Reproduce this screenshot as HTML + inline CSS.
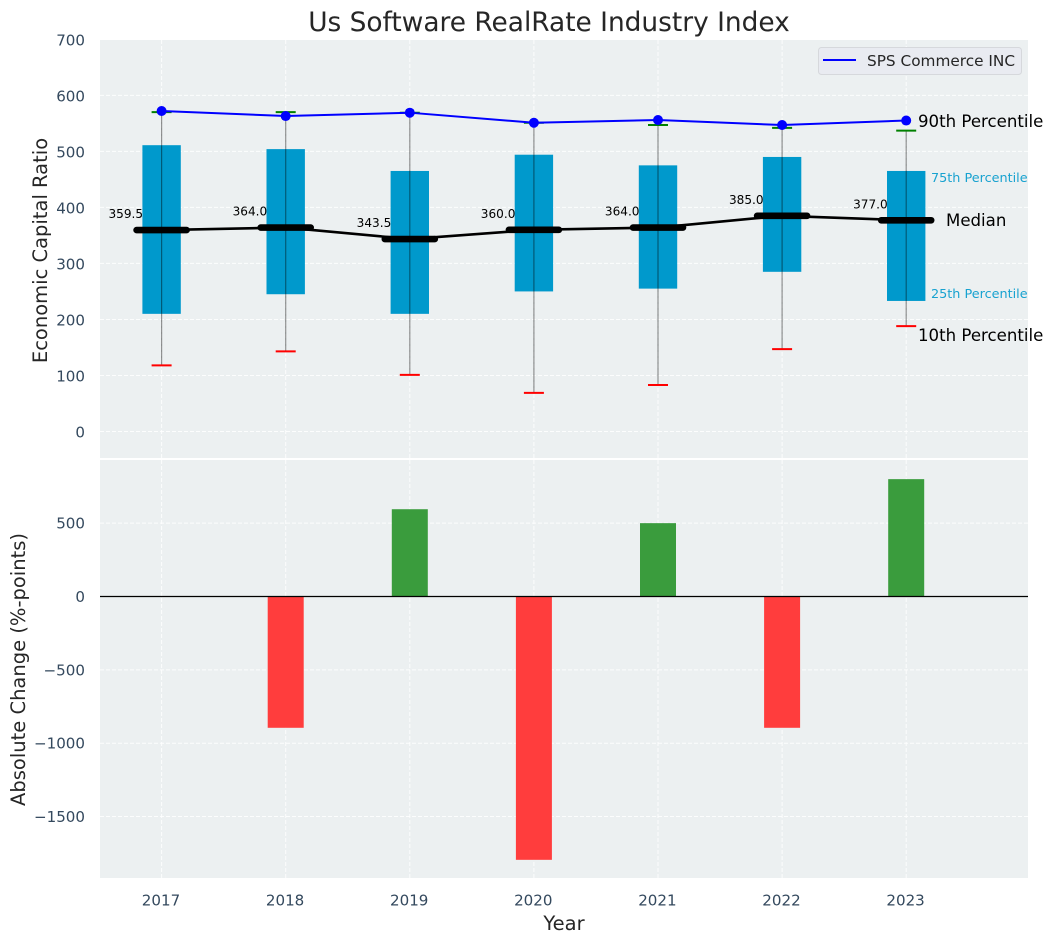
<!DOCTYPE html>
<html>
<head>
<meta charset="utf-8">
<title>Us Software RealRate Industry Index</title>
<style>
html,body{margin:0;padding:0;background:#fff;}
svg{display:block;font-family:"DejaVu Sans","Liberation Sans",sans-serif;}
</style>
</head>
<body>
<svg id="chart" width="1053" height="942" viewBox="0 0 1053 942" xmlns="http://www.w3.org/2000/svg">
  <rect x="0" y="0" width="1053" height="942" fill="#ffffff"/>
  <rect x="100" y="40" width="928" height="418" fill="#ecf0f1"/>
  <rect x="100" y="460" width="928" height="418" fill="#ecf0f1"/>
  <g id="grid"></g>
  <g id="bars"></g>
  <g id="boxes"></g>
  <g id="lines"></g>
  <g id="labels"></g>
  <g id="ticks"></g>
  <text x="549" y="31" font-size="26.4px" fill="#262626" text-anchor="middle">Us Software RealRate Industry Index</text>
  <text transform="translate(47,250.5) rotate(-90)" font-size="19.5px" fill="#262626" text-anchor="middle">Economic Capital Ratio</text>
  <text transform="translate(25,669.5) rotate(-90)" font-size="19.5px" fill="#262626" text-anchor="middle">Absolute Change (%-points)</text>
  <text x="564" y="930" font-size="19.5px" fill="#262626" text-anchor="middle">Year</text>
  <text x="918" y="127" font-size="16.6px" fill="#000">90th Percentile</text>
  <text x="931" y="182" font-size="12.8px" fill="#0099cc" fill-opacity="0.9">75th Percentile</text>
  <text x="946" y="226" font-size="16.6px" fill="#000">Median</text>
  <text x="931" y="298" font-size="12.8px" fill="#0099cc" fill-opacity="0.9">25th Percentile</text>
  <text x="918" y="341" font-size="16.6px" fill="#000">10th Percentile</text>
  <g>
    <rect x="818.5" y="47.5" width="203" height="27" rx="3" fill="#e9ebf1" stroke="#d6d8dc" stroke-width="1"/>
    <line x1="823" y1="60" x2="856" y2="60" stroke="#0000ff" stroke-width="2"/>
    <text x="867" y="66" font-size="15.3px" fill="#262626">SPS Commerce INC</text>
  </g>
</svg>
<script>
const years = [2017, 2018, 2019, 2020, 2021, 2022, 2023];
const companyValues = [572, 563, 569, 551, 556, 547, 555];
const p90Values = [570, 570, 569, 551, 547, 542, 537];
const p75Values = [511, 504, 465, 494, 475, 490, 465];
const medianValues = [359.5, 364, 343.5, 360, 364, 385, 377];
const p25Values = [210, 245, 210, 250, 255, 285, 233];
const p10Values = [118, 143, 101, 69, 83, 147, 188];
const changeValues = [0, -895, 595, -1795, 500, -895, 800];
const topTicks = [0, 100, 200, 300, 400, 500, 600, 700];
const bottomTicks = [-1500, -1000, -500, 0, 500];

const NS = 'http://www.w3.org/2000/svg';
function xScale(year) { return 161.6 + (year - 2017) * 124.1; }
function yTop(v) { return 431.5 - v * 0.5603; }
function yBottom(v) { return 596.5 - v * 0.1467; }

function make(parent, tag, attrs, text) {
  const el = document.createElementNS(NS, tag);
  for (const k in attrs) el.setAttribute(k, attrs[k]);
  if (text !== undefined) el.textContent = text;
  document.getElementById(parent).appendChild(el);
  return el;
}
const gridStyle = { stroke: '#ffffff', 'stroke-width': 1, 'stroke-dasharray': '4 2', 'stroke-opacity': 0.85 };
const tickStyle = { 'font-size': '15.1px', fill: '#34495e' };

years.forEach(function (year) {
  const x = xScale(year);
  const gridTop = make('grid', 'line', Object.assign({ x1: x, x2: x, y1: 40, y2: 458 }, gridStyle));
  
  
  const gridBottom = make('grid', 'line', Object.assign({ x1: x, x2: x, y1: 460, y2: 878 }, gridStyle));
  
  
  const tick = make('ticks', 'text', Object.assign({ x: x - 0.6, y: 905.5, 'text-anchor': 'middle' }, tickStyle), String(year));
  
  
});

topTicks.forEach(function (v) {
  const y = yTop(v);
  if (v < 700) {
    const g = make('grid', 'line', Object.assign({ x1: 100, x2: 1028, y1: y, y2: y }, gridStyle));
    
    
  }
  const t = make('ticks', 'text', Object.assign({ x: 85, y: y + 6, 'text-anchor': 'end' }, tickStyle), String(v));
  
  
});

bottomTicks.forEach(function (v) {
  const y = yBottom(v);
  const g = make('grid', 'line', Object.assign({ x1: 100, x2: 1028, y1: y, y2: y }, gridStyle));
  
  
  const label = v < 0 ? '\u2212' + Math.abs(v) : String(v);
  const t = make('ticks', 'text', Object.assign({ x: 85, y: y + 5.5, 'text-anchor': 'end' }, tickStyle), label);
  
  
});

changeValues.forEach(function (v, i) {
  if (v === 0) return;
  const x = xScale(years[i]);
  const y0 = yBottom(0);
  const y1 = yBottom(v);
  const bar = make('bars', 'rect', {
    x: x - 18, y: Math.min(y0, y1), width: 36, height: Math.abs(y1 - y0),
    fill: v > 0 ? '#3a9c3d' : '#ff3d3d'
  });
  
  
});
const zeroLine = make('bars', 'line', { x1: 100, x2: 1028, y1: yBottom(0), y2: yBottom(0), stroke: '#000', 'stroke-width': 1.2 });



years.forEach(function (year, i) {
  const x = xScale(year);
  const box = make('boxes', 'rect', {
    x: x - 19.2, y: yTop(p75Values[i]), width: 38.4,
    height: yTop(p25Values[i]) - yTop(p75Values[i]), fill: '#0099cc'
  });
  
  
  const whisker = make('boxes', 'line', {
    x1: x, x2: x, y1: yTop(p90Values[i]), y2: yTop(p10Values[i]),
    stroke: '#000', 'stroke-opacity': 0.42, 'stroke-width': 1.2
  });
  
  
  const capHigh = make('boxes', 'line', {
    x1: x - 10, x2: x + 10, y1: yTop(p90Values[i]), y2: yTop(p90Values[i]),
    stroke: '#008000', 'stroke-width': 2
  });
  
  
  const capLow = make('boxes', 'line', {
    x1: x - 10, x2: x + 10, y1: yTop(p10Values[i]), y2: yTop(p10Values[i]),
    stroke: '#ff0000', 'stroke-width': 2
  });
  
  
});

const medianLine = make('lines', 'polyline', {
  points: years.map(function (year, i) { return xScale(year) + ',' + yTop(medianValues[i]); }).join(' '),
  fill: 'none', stroke: '#000', 'stroke-width': 2.6
});



const companyLine = make('lines', 'polyline', {
  points: years.map(function (year, i) { return xScale(year) + ',' + yTop(companyValues[i]); }).join(' '),
  fill: 'none', stroke: '#0000ff', 'stroke-width': 2
});



years.forEach(function (year, i) {
  const x = xScale(year);
  const bar = make('lines', 'line', {
    x1: x - 25, x2: x + 25, y1: yTop(medianValues[i]), y2: yTop(medianValues[i]),
    stroke: '#000', 'stroke-width': 6.6, 'stroke-linecap': 'round'
  });
  
  
  const dot = make('lines', 'circle', { cx: x, cy: yTop(companyValues[i]), r: 5, fill: '#0000ff' });
  
  
  const label = make('labels', 'text', {
    x: x - 18.5, y: yTop(medianValues[i]) - 12, 'font-size': '12.1px', fill: '#000', 'text-anchor': 'end'
  }, medianValues[i].toFixed(1));
  
  
});
</script>
</body>
</html>
